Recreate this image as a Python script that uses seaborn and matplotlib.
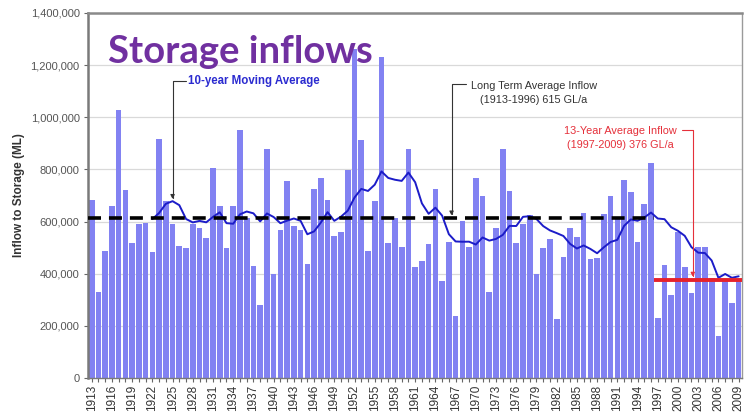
import numpy as np
import pandas as pd
import matplotlib
matplotlib.use("Agg")
import matplotlib.pyplot as plt
import seaborn as sns
from matplotlib.ticker import FuncFormatter, MultipleLocator

# Annual inflow to storage, ML (1913-2009)
years = list(range(1913, 2010))
inflow_ml = [
    683000, 328000, 488000, 661000, 1028000, 721000, 517000, 591000, 596000, 483000,   # 1913-1922
    916000, 680000, 590000, 507000, 498000, 590000, 575000, 536000, 805000, 658000,    # 1923-1932
    500000, 658000, 951000, 615000, 428000, 281000, 879000, 399000, 568000, 756000,    # 1933-1942
    583000, 568000, 436000, 725000, 766000, 683000, 545000, 559000, 798000, 1260000,   # 1943-1952
    913000, 489000, 677000, 1233000, 517000, 613000, 501000, 879000, 427000, 449000,   # 1953-1962
    513000, 724000, 372000, 521000, 238000, 602000, 504000, 769000, 698000, 329000,    # 1963-1972
    577000, 879000, 717000, 517000, 590000, 625000, 398000, 497000, 532000, 226000,    # 1973-1982
    466000, 574000, 542000, 634000, 457000, 459000, 628000, 698000, 616000, 760000,    # 1983-1992
    715000, 520000, 668000, 824000, 229000, 434000, 318000, 561000, 425000, 325000,    # 1993-2002
    504000, 504000, 382000, 161000, 376000, 287000, 376000,                            # 2003-2009
]
long_term_avg = 615000      # 1913-1996
recent_avg = 376000         # 1997-2009
ma_window = 10

sns.set_theme(style="white")
plt.rcParams["font.family"] = ["Liberation Sans", "DejaVu Sans"]

df = pd.DataFrame({"year": years, "inflow": inflow_ml})
df["pos"] = np.arange(len(df))
df["ma"] = df["inflow"].rolling(ma_window).mean()

fig = plt.figure(figsize=(7.44, 4.19), dpi=100)
fig.patch.set_facecolor("white")
ax = fig.add_axes([88 / 744, 41 / 419, 654 / 744, 365 / 419])

sns.barplot(data=df, x="year", y="inflow", color="#8282f2", saturation=1,
            width=0.84, linewidth=0, edgecolor="none", ax=ax, zorder=2)

ma = df.dropna(subset=["ma"])
sns.lineplot(data=ma, x="pos", y="ma", color="#1c1cc8", lw=1.4,
             estimator=None, sort=False, ax=ax, zorder=4)

# long-term and recent average lines
i_first = years.index(1913)
i_1996 = years.index(1996)
i_1997 = years.index(1997)
i_last = years.index(2009)
ax.plot([i_first - 0.5, i_1996 + 0.5], [long_term_avg, long_term_avg],
        color="black", lw=2.6, dashes=(3.6, 2.2), zorder=5)
ax.plot([i_1997 - 0.5, i_last + 0.5], [recent_avg, recent_avg],
        color="#e5222c", lw=2.8, zorder=5, solid_capstyle="butt")

# axes styling
ax.set_xlim(-0.55, len(years) - 0.5)
ax.set_ylim(0, 1400000)
ax.yaxis.set_major_locator(MultipleLocator(200000))
ax.yaxis.set_major_formatter(FuncFormatter(lambda v, p: f"{v:,.0f}"))
ax.set_xticks(df["pos"])
ax.set_xticklabels([str(y) if (y - 1913) % 3 == 0 else "" for y in years],
                   rotation=90, fontsize=8.5, color="#333333")
ax.tick_params(axis="x", length=3, width=0.8, color="#666666", pad=2, bottom=True)
ax.tick_params(axis="y", length=3, width=0.8, color="#666666", labelsize=8,
               labelcolor="#555555", left=True, pad=3)
ax.yaxis.grid(True, color="#d9d9d9", lw=0.9)
ax.set_axisbelow(True)
ax.set_xlabel("")
ax.set_ylabel("Inflow to Storage (ML)", fontsize=8.5, fontweight="bold",
              color="#333333", labelpad=12)
ax.yaxis.set_label_coords(-0.097, 0.5)
for side, c, w in [("left", "#7a7a7a", 1.8), ("top", "#8a8a8a", 1.8),
                   ("right", "#9a9a9a", 1.0), ("bottom", "#7a7a7a", 1.0)]:
    ax.spines[side].set_color(c)
    ax.spines[side].set_linewidth(w)
    ax.spines[side].set_visible(True)

# annotations with elbow leaders
ma_1925 = df.loc[df["year"] == 1925, "ma"].iloc[0]
ax.text(14.3, 1139000, "10-year Moving Average", color="#2b2bd0",
        fontsize=8.3, fontweight="bold", ha="left", va="center", zorder=6)
ax.annotate("", xy=(years.index(1925), ma_1925 + 8000), xytext=(14.0, 1139000),
            arrowprops=dict(arrowstyle="-|>", color="#333333", lw=0.8,
                            mutation_scale=6, shrinkA=0, shrinkB=0,
                            connectionstyle="angle,angleA=0,angleB=90,rad=0"),
            zorder=6)

ax.text(65.6, 1095000, "Long Term Average Inflow\n(1913-1996) 615 GL/a",
        color="#333333", fontsize=7.8, ha="center", va="center",
        multialignment="center", linespacing=1.5, zorder=6)
ax.annotate("", xy=(53.4, long_term_avg + 8000), xytext=(55.5, 1128000),
            arrowprops=dict(arrowstyle="-|>", color="#333333", lw=0.8,
                            mutation_scale=6, shrinkA=0, shrinkB=0,
                            connectionstyle="angle,angleA=0,angleB=90,rad=0"),
            zorder=6)

ax.text(78.5, 922000, "13-Year Average Inflow\n(1997-2009) 376 GL/a",
        color="#e5303a", fontsize=7.8, ha="center", va="center",
        multialignment="center", linespacing=1.5, zorder=6)
ax.annotate("", xy=(89.2, recent_avg + 12000), xytext=(87.6, 951000),
            arrowprops=dict(arrowstyle="-|>", color="#e5303a", lw=0.8,
                            mutation_scale=6, shrinkA=0, shrinkB=0,
                            connectionstyle="angle,angleA=0,angleB=90,rad=0"),
            zorder=6)

fig.text(108 / 744, (419 - 63) / 419, "Storage inflows", color="#7030a0",
         fontsize=27.5, fontweight="bold", family=["Lato", "DejaVu Sans"],
         ha="left", va="baseline")

fig.savefig("out.png", dpi=100)
